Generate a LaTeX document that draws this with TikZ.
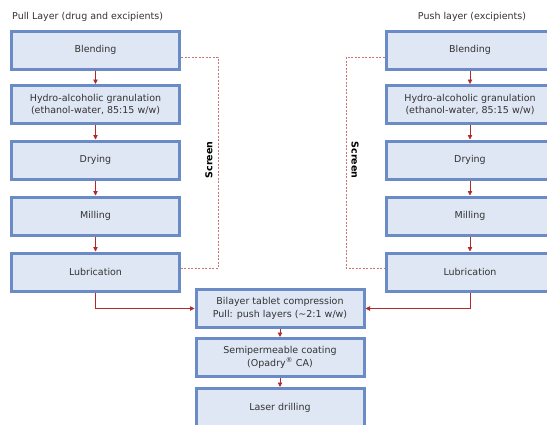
\documentclass[tikz,border=0pt]{standalone}
\usepackage{fontspec}
\setmainfont{DejaVu Sans}
\usetikzlibrary{arrows.meta}
\definecolor{boxedge}{HTML}{6B8BC7}
\definecolor{boxfill}{HTML}{DFE7F4}
\definecolor{flow}{HTML}{B02A2A}
\definecolor{screenline}{HTML}{C97575}
\definecolor{txt}{HTML}{333333}
\begin{document}
\begin{tikzpicture}[x=1pt,y=-1pt,
  stage/.style={draw=boxedge, line width=3pt, fill=boxfill, minimum width=168pt,
    minimum height=38pt, inner sep=0pt, align=center, text=txt,
    font=\fontsize{9.5}{12.5}\selectfont},
  flowarrow/.style={draw=flow, line width=0.8pt, -{Triangle[length=4.5pt,width=4.5pt]}},
  screenpath/.style={draw=screenline, line width=0.9pt, dash pattern=on 2pt off 1.5pt},
  title/.style={text=txt, font=\fontsize{9.5}{12}\selectfont, inner sep=0pt},
  screentext/.style={text=black, font=\bfseries\fontsize{9.5}{12}\selectfont, inner sep=0pt}]
\useasboundingbox (0,0) rectangle (547,424);

% headings
\node[title, anchor=west] (pullttl) at (12,17) {Pull Layer (drug and excipients)};
\node[title] (pushttl) at (472,17) {Push layer (excipients)};

% pull layer column
\node[stage] (lb) at (95.5,50) {Blending};
\node[stage] (lg) at (95.5,104.5) {Hydro-alcoholic granulation\\(ethanol-water, 85:15 w/w)};
\node[stage] (ld) at (95.5,160) {Drying};
\node[stage] (lm) at (95.5,216) {Milling};
\node[stage] (ll) at (95.5,272) {Lubrication};

% push layer column
\node[stage] (rb) at (470,50) {Blending};
\node[stage] (rg) at (470,104.5) {Hydro-alcoholic granulation\\(ethanol-water, 85:15 w/w)};
\node[stage] (rd) at (470,160) {Drying};
\node[stage] (rm) at (470,216) {Milling};
\node[stage] (rl) at (470,272) {Lubrication};

% common steps
\node[stage] (bc) at (280,308.5) {Bilayer tablet compression\\Pull: push layers (\textasciitilde 2:1 w/w)};
\node[stage] (sc) at (280,357.5) {Semipermeable coating\\(Opadry\textsuperscript{®} CA)};
\node[stage] (ld2) at (280,407.5) {Laser drilling};

% flow arrows
\foreach \a/\b in {lb/lg, lg/ld, ld/lm, lm/ll, rb/rg, rg/rd, rd/rm, rm/rl, bc/sc, sc/ld2}
  \draw[flowarrow] (\a.south) -- (\b.north);
\draw[flowarrow] (ll.south) |- (bc.west);
\draw[flowarrow] (rl.south) |- (bc.east);

% screen loops
\coordinate (lsa) at (218,57);
\coordinate (lsb) at (218,268);
\coordinate (rsa) at (346,57);
\coordinate (rsb) at (346,268);
\draw[screenpath] (ll.east |- lsa) -- (lsa) -- (lsb) -- (ll.east |- lsb);
\draw[screenpath] (rl.west |- rsa) -- (rsa) -- (rsb) -- (rl.west |- rsb);
\node[screentext, rotate=90] (lscr) at (209,160) {Screen};
\node[screentext, rotate=-90] (rscr) at (355,160) {Screen};
\end{tikzpicture}
\end{document}
